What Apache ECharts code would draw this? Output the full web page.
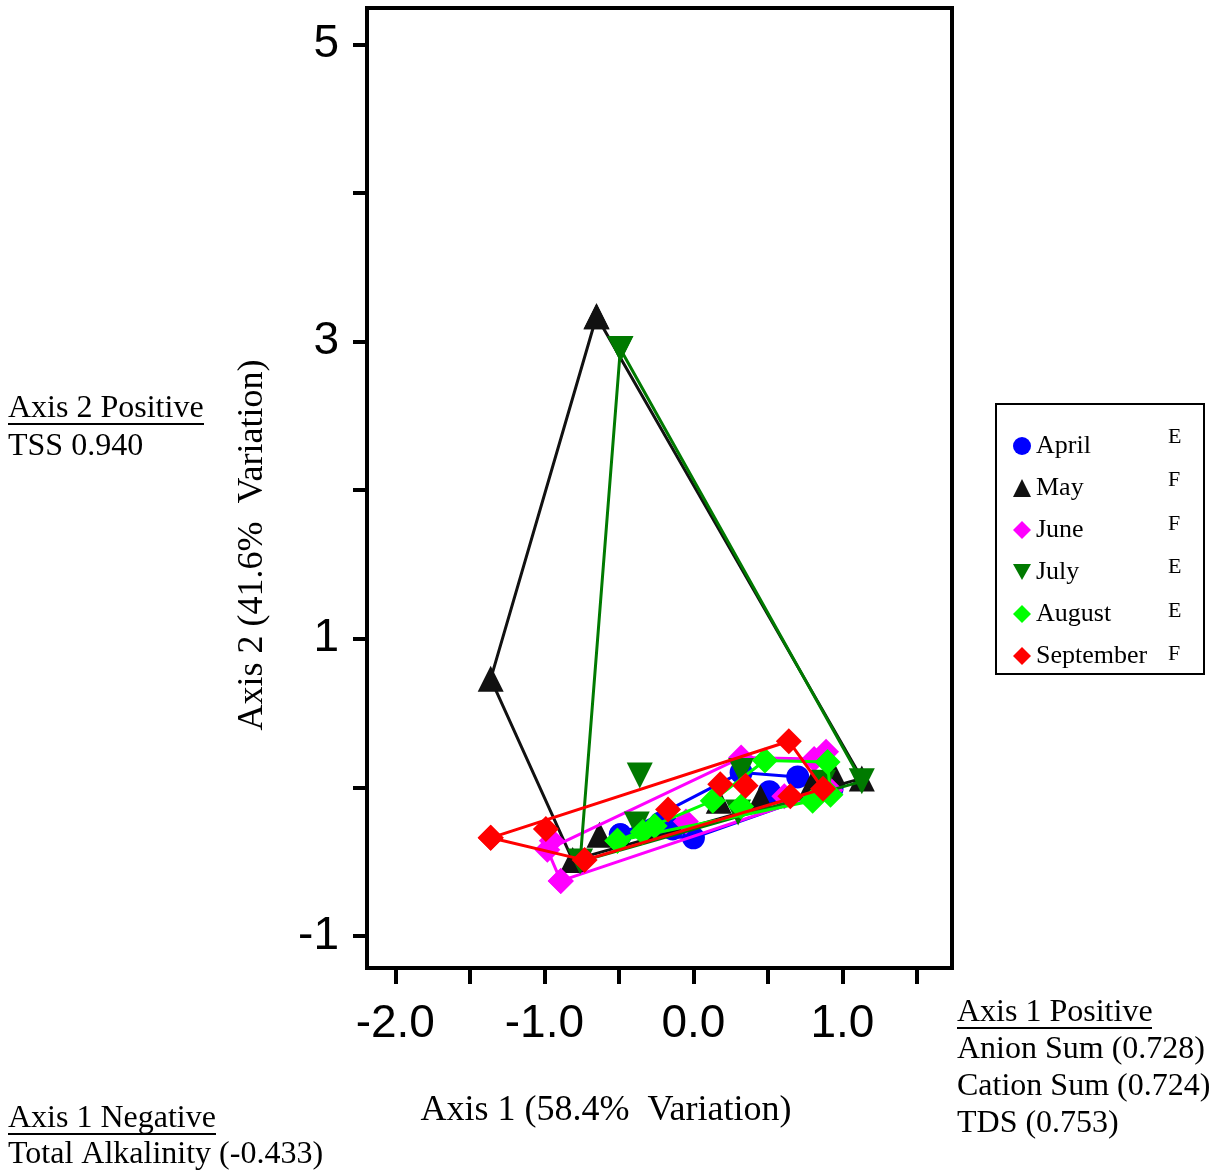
<!DOCTYPE html>
<html>
<head>
<meta charset="utf-8">
<script src="https://cdn.jsdelivr.net/npm/echarts@6/dist/echarts.min.js"></script>
<style>
  html, body { margin: 0; padding: 0; background: #fff; }
  #chart { width: 1219px; height: 1174px; }
</style>
</head>
<body>
<div id="chart"></div>
<script>
// axis ticks
const xTicks = [-2, -1.5, -1, -0.5, 0, 0.5, 1, 1.5];
const xTickLabels = [-2, -1, 0, 1];
const yTicks = [-1, 0, 1, 2, 3, 4, 5];
const yTickLabels = [-1, 1, 3, 5];

const months = ["April", "May", "June", "July", "August", "September"];
const groupLetters = ["E", "F", "F", "E", "E", "F"];

// hull points (drawn as closed outline) and inner points per month, [axis1, axis2]
const aprilHull = [[-0.49, -0.32], [0.32, 0.10], [0.70, 0.07], [0.93, -0.01], [0.00, -0.34]];
const aprilInner = [[-0.14, -0.28], [0.51, -0.03], [-0.22, -0.24]];

const mayHull = [[-0.65, 3.17], [1.13, 0.06], [-0.81, -0.49], [-1.36, 0.73]];
const mayInner = [[-0.63, -0.32], [0.17, -0.09], [0.94, 0.09], [0.45, -0.07], [0.80, 0.03]];

const juneHull = [[-0.89, -0.63], [-0.98, -0.42], [0.32, 0.20], [0.81, 0.19], [0.89, 0.24], [0.92, -0.02]];
const juneInner = [[-0.95, -0.36], [-0.05, -0.23], [0.61, -0.06]];

const julyHull = [[-0.49, 2.95], [1.13, 0.04], [-0.76, -0.50]];
const julyInner = [[-0.36, 0.08], [-0.38, -0.25], [0.32, 0.11], [0.87, 0.03], [0.30, -0.17]];

const augustHull = [[-0.51, -0.36], [0.13, -0.09], [0.48, 0.18], [0.90, 0.17], [0.92, -0.05], [0.80, -0.09]];
const augustInner = [[-0.34, -0.30], [-0.26, -0.26], [0.32, -0.13]];

const septemberHull = [[-1.36, -0.34], [0.64, 0.31], [0.87, -0.01], [-0.73, -0.49]];
const septemberInner = [[-0.99, -0.28], [-0.17, -0.15], [0.18, 0.02], [0.35, 0.01], [0.65, -0.06]];

const hulls = [aprilHull, mayHull, juneHull, julyHull, augustHull, septemberHull];
const inners = [aprilInner, mayInner, juneInner, julyInner, augustInner, septemberInner];

const colors = ["#0000ff", "#111111", "#ff00ff", "#007a00", "#00ff00", "#ff0000"];
const symbols = ["circle", "triangle", "diamond", "triangle", "diamond", "diamond"];
const rotations = [0, 0, 0, 180, 0, 0];
const sizes = [23, 26, 26, 26, 26, 26];
const legendIcons = ["circle", "triangle", "diamond", "path://M0,0L10,0L5,9Z", "diamond", "diamond"];

const serif = "Liberation Serif";
const sans = "Liberation Sans";

const chart = echarts.init(document.getElementById("chart"));

const series = [];
months.forEach((m, i) => {
  series.push({
    name: m,
    type: "line",
    data: hulls[i].concat([hulls[i][0]]),
    symbol: symbols[i],
    symbolSize: sizes[i],
    symbolRotate: rotations[i],
    lineStyle: { color: colors[i], width: 3 },
    itemStyle: { color: colors[i], opacity: 1 },
    z: 2 + i,
  });
  series.push({
    name: m,
    type: "scatter",
    data: inners[i],
    symbol: symbols[i],
    symbolSize: sizes[i],
    symbolRotate: rotations[i],
    itemStyle: { color: colors[i], opacity: 1 },
    z: 2 + i,
  });
});

const graphic = [
  // axis titles
  { type: "text", x: 253, y: 545, rotation: Math.PI / 2,
    style: { text: "Axis 2 (41.6%  Variation)", font: "36px " + serif, fill: "#000", align: "center", verticalAlign: "middle" } },
  { type: "text", x: 606, y: 1111,
    style: { text: "Axis 1 (58.4%  Variation)", font: "36px " + serif, fill: "#000", align: "center", verticalAlign: "middle" } },
  // notes
  { type: "text", x: 8, y: 409, style: { text: "Axis 2 Positive", font: "32px " + serif, fill: "#000", verticalAlign: "middle" } },
  { type: "line", shape: { x1: 8, y1: 424, x2: 204, y2: 424 }, style: { stroke: "#000", lineWidth: 2 } },
  { type: "text", x: 8, y: 447, style: { text: "TSS 0.940", font: "32px " + serif, fill: "#000", verticalAlign: "middle" } },

  { type: "text", x: 957, y: 1013, style: { text: "Axis 1 Positive", font: "32px " + serif, fill: "#000", verticalAlign: "middle" } },
  { type: "line", shape: { x1: 957, y1: 1028, x2: 1152, y2: 1028 }, style: { stroke: "#000", lineWidth: 2 } },
  { type: "text", x: 957, y: 1050, style: { text: "Anion Sum (0.728)", font: "32px " + serif, fill: "#000", verticalAlign: "middle" } },
  { type: "text", x: 957, y: 1087, style: { text: "Cation Sum (0.724)", font: "32px " + serif, fill: "#000", verticalAlign: "middle" } },
  { type: "text", x: 957, y: 1124, style: { text: "TDS (0.753)", font: "32px " + serif, fill: "#000", verticalAlign: "middle" } },

  { type: "text", x: 8, y: 1119, style: { text: "Axis 1 Negative", font: "32px " + serif, fill: "#000", verticalAlign: "middle" } },
  { type: "line", shape: { x1: 8, y1: 1134, x2: 216, y2: 1134 }, style: { stroke: "#000", lineWidth: 2 } },
  { type: "text", x: 8, y: 1155, style: { text: "Total Alkalinity (-0.433)", font: "32px " + serif, fill: "#000", verticalAlign: "middle" } },

  // legend frame
  { type: "rect", shape: { x: 996, y: 404, width: 208, height: 270 }, style: { fill: "none", stroke: "#000", lineWidth: 2 } },
];
groupLetters.forEach((g, i) => {
  graphic.push({ type: "text", x: 1168, y: 437 + i * 43.5,
    style: { text: g, font: "22px " + serif, fill: "#000", verticalAlign: "middle" } });
});

const options = {
  backgroundColor: "#fff",
  animation: false,
  grid: {
    left: 367, right: 267, top: 8, bottom: 206,
    show: true, borderColor: "#000", borderWidth: 4,
  },
  xAxis: {
    type: "value",
    min: -2.19,
    max: 1.735,
    axisLine: { show: true, onZero: false, lineStyle: { color: "#000", width: 4 } },
    axisTick: { show: true, customValues: xTicks, length: 16, lineStyle: { color: "#000", width: 4 } },
    axisLabel: {
      customValues: xTickLabels,
      formatter: (v) => v.toFixed(1),
      fontSize: 46, fontFamily: sans, color: "#000", margin: 33,
    },
    splitLine: { show: false },
  },
  yAxis: {
    type: "value",
    min: -1.216,
    max: 5.244,
    axisLine: { show: true, onZero: false, lineStyle: { color: "#000", width: 4 } },
    axisTick: { show: true, customValues: yTicks, length: 14, lineStyle: { color: "#000", width: 4 } },
    axisLabel: {
      customValues: yTickLabels,
      fontSize: 46, fontFamily: sans, color: "#000", margin: 28,
    },
    splitLine: { show: false },
  },
  legend: {
    orient: "vertical",
    left: 1008,
    top: 428,
    itemWidth: 18,
    itemHeight: 18,
    itemGap: 16,
    textStyle: { fontFamily: serif, fontSize: 26, color: "#000", lineHeight: 26 },
    data: months.map((m, i) => ({ name: m, icon: legendIcons[i], itemStyle: { color: colors[i] } })),
    selectedMode: false,
  },
  graphic: graphic,
  series: series,
};

chart.setOption(options);
</script>
</body>
</html>
